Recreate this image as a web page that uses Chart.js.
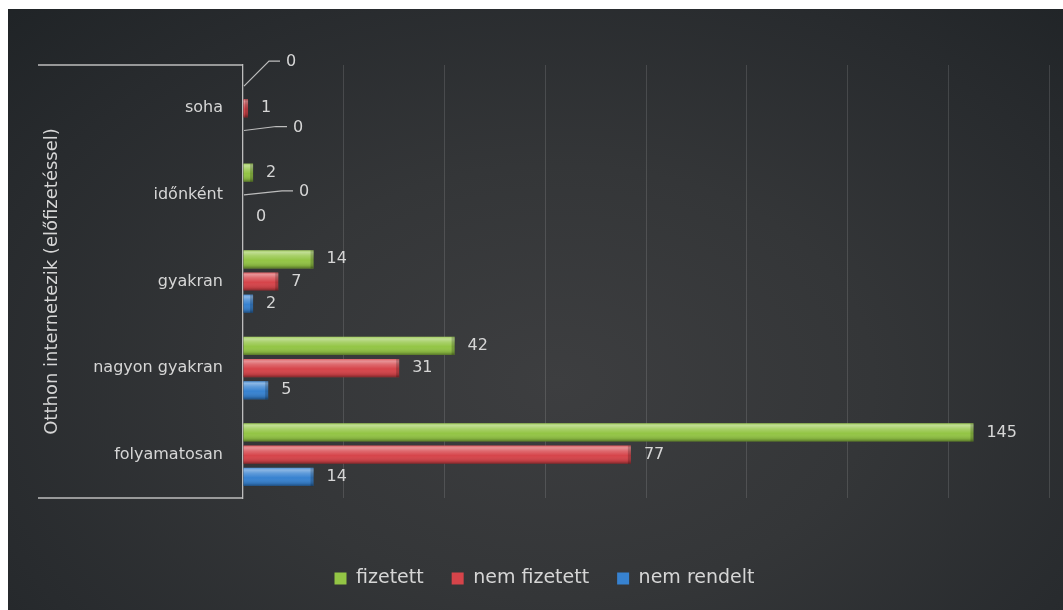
<!DOCTYPE html>
<html>
<head>
<meta charset="utf-8">
<script src="https://cdn.jsdelivr.net/npm/chart.js@4.4.1/dist/chart.umd.min.js"></script>
<style>
  html, body { margin: 0; padding: 0; background: #fff; }
  #wrap {
    position: absolute; left: 8px; top: 9px; width: 1055px; height: 601px;
    background: radial-gradient(ellipse 75% 90% at 52% 62%, #3d3e40 0%, #343638 40%, #282b2e 75%, #1f2326 100%);
  }
</style>
</head>
<body>
<div id="wrap"><canvas id="chart"></canvas></div>
<script>
const categories = ['soha', 'időnként', 'gyakran', 'nagyon gyakran', 'folyamatosan'];
const fizetett = [0, 2, 14, 42, 145];
const nemFizetett = [1, 0, 7, 31, 77];
const nemRendelt = [0, 0, 2, 5, 14];
const seriesNames = ['fizetett', 'nem fizetett', 'nem rendelt'];
const xMax = 160;
const xStep = 20;
const axisTitle = 'Otthon internetezik (előfizetéssel)';

const textColor = '#d6d6d6';
const font = 'DejaVu Sans';

// Excel moved a few zero labels aside with leader lines: [dx, dy] per "dataset-index"
const labelNudges = { '0-0': [30, -24], '2-0': [37, -3], '1-1': [43, -3] };

// 3D-ish shading on top of the flat bars
const barShade = {
  id: 'barShade',
  afterDatasetsDraw(chart) {
    const ctx = chart.ctx;
    chart.data.datasets.forEach((ds, i) => {
      chart.getDatasetMeta(i).data.forEach(el => {
        const w = el.x - el.base;
        if (w <= 0) return;
        const top = el.y - el.height / 2;
        const g = ctx.createLinearGradient(0, top, 0, top + el.height);
        g.addColorStop(0, 'rgba(255,255,255,0.15)');
        g.addColorStop(0.12, 'rgba(255,255,255,0.42)');
        g.addColorStop(0.3, 'rgba(255,255,255,0.2)');
        g.addColorStop(0.55, 'rgba(255,255,255,0)');
        g.addColorStop(0.85, 'rgba(0,0,0,0.12)');
        g.addColorStop(1, 'rgba(0,0,0,0.4)');
        ctx.save();
        ctx.fillStyle = g;
        ctx.fillRect(el.base, top, w, el.height);
        ctx.fillStyle = 'rgba(0,0,0,0.2)';
        ctx.fillRect(el.x - 3, top, 3, el.height);
        ctx.restore();
      });
    });
  }
};

// value labels, with leader lines for the moved ones
const valueLabels = {
  id: 'valueLabels',
  afterDatasetsDraw(chart) {
    const ctx = chart.ctx;
    ctx.save();
    ctx.font = '16px "' + font + '"';
    ctx.fillStyle = textColor;
    ctx.textBaseline = 'middle';
    ctx.textAlign = 'left';
    chart.data.datasets.forEach((ds, i) => {
      chart.getDatasetMeta(i).data.forEach((el, j) => {
        let tx = el.x + 13, ty = el.y;
        const n = labelNudges[i + '-' + j];
        if (n) {
          tx += n[0]; ty += n[1];
          ctx.strokeStyle = '#bdbdbd';
          ctx.lineWidth = 1.2;
          ctx.beginPath();
          ctx.moveTo(el.x + 1, el.y);
          ctx.lineTo(tx - 17, ty - 1);
          ctx.lineTo(tx - 6, ty - 1);
          ctx.stroke();
        }
        ctx.fillText(String(ds.data[j]), tx, ty);
      });
    });
    ctx.restore();
  }
};

// top and bottom lines of the category axis box
const axisBox = {
  id: 'axisBox',
  afterDraw(chart) {
    const { ctx, chartArea } = chart;
    ctx.save();
    ctx.strokeStyle = '#bdbdbd';
    ctx.lineWidth = 1.3;
    ctx.beginPath();
    ctx.moveTo(30, chartArea.top); ctx.lineTo(chartArea.left, chartArea.top);
    ctx.moveTo(30, chartArea.bottom); ctx.lineTo(chartArea.left, chartArea.bottom);
    ctx.stroke();
    ctx.restore();
  }
};

const legendShift = {
  id: 'legendShift',
  afterLayout(chart) {
    chart.legend.left += 16;
    chart.legend.right += 16;
  }
};

new Chart(document.getElementById('chart'), {
  type: 'bar',
  data: {
    labels: categories,
    datasets: [
      { label: seriesNames[0], data: fizetett, backgroundColor: '#93c545', borderWidth: 0 },
      { label: seriesNames[1], data: nemFizetett, backgroundColor: '#d6444a', borderWidth: 0 },
      { label: seriesNames[2], data: nemRendelt, backgroundColor: '#3782d0', borderWidth: 0 }
    ]
  },
  options: {
    indexAxis: 'y',
    responsive: true,
    maintainAspectRatio: false,
    animation: false,
    categoryPercentage: 0.77,
    barPercentage: 0.82,
    layout: { padding: { top: 56, right: 14, bottom: 19, left: 0 } },
    plugins: {
      tooltip: { enabled: false },
      legend: {
        position: 'bottom',
        maxHeight: 50,
        labels: {
          color: textColor,
          font: { family: font, size: 19 },
          boxWidth: 12,
          boxHeight: 12,
          padding: 28
        }
      }
    },
    scales: {
      x: {
        min: 0,
        max: xMax,
        ticks: { display: false, stepSize: xStep },
        grid: {
          color: ctx => ctx.tick && ctx.tick.value === 0 ? 'rgba(0,0,0,0)' : 'rgba(255,255,255,0.13)',
          drawTicks: false
        },
        border: { display: false },
        afterFit(s) { s.height = 43; }
      },
      y: {
        grid: { display: false, drawTicks: false },
        border: { color: '#bdbdbd', width: 1.3 },
        ticks: { color: textColor, font: { family: font, size: 16 }, padding: 20 },
        title: {
          display: true,
          text: axisTitle,
          color: textColor,
          font: { family: font, size: 18 },
          padding: { top: 34, bottom: 0 }
        },
        afterFit(s) { s.width = 235; }
      }
    }
  },
  plugins: [barShade, valueLabels, axisBox, legendShift]
});
</script>
</body>
</html>
